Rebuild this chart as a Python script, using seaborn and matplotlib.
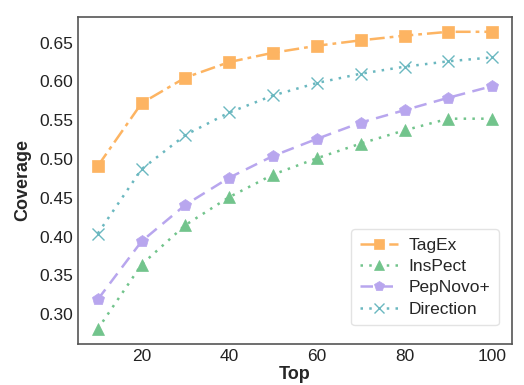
import matplotlib
matplotlib.use("Agg")
import matplotlib.pyplot as plt
import seaborn as sns
import pandas as pd

top = [10, 20, 30, 40, 50, 60, 70, 80, 90, 100]
tagex = [0.491, 0.572, 0.605, 0.625, 0.637, 0.646, 0.653, 0.659, 0.664, 0.664]
inspect = [0.281, 0.364, 0.415, 0.451, 0.480, 0.501, 0.520, 0.537, 0.552, 0.552]
pepnovo = [0.319, 0.394, 0.441, 0.476, 0.504, 0.526, 0.547, 0.563, 0.579, 0.594]
direction = [0.404, 0.487, 0.531, 0.560, 0.582, 0.598, 0.610, 0.619, 0.626, 0.631]

names = ["TagEx", "InsPect", "PepNovo+", "Direction"]
series = [tagex, inspect, pepnovo, direction]
colors = ["#FDB462", "#72C48C", "#B8A6EE", "#6BB8C0"]
styles = [(0, (6, 2, 1.5, 2)), (0, (1, 2.5)), (0, (5, 3)), (0, (1, 2.5))]
markers = ["s", "^", "p", "x"]

sns.set_style("white")
plt.rcParams["font.family"] = ["Liberation Sans", "DejaVu Sans"]

fig, ax = plt.subplots(figsize=(5.24, 3.85), dpi=100)
fig.subplots_adjust(left=0.149, right=0.977, top=0.956, bottom=0.107)

for name, vals, c, ls, m in zip(names, series, colors, styles, markers):
    df = pd.DataFrame({"Top": top, "Coverage": vals})
    sns.lineplot(data=df, x="Top", y="Coverage", ax=ax, color=c, linestyle=ls,
                 marker=m, markersize=9, markeredgecolor=c,
                 markeredgewidth=1.0 if m == "x" else 0.5,
                 linewidth=1.8, label=name)

ax.set_xticks([20, 40, 60, 80, 100])
ax.set_yticks([0.30, 0.35, 0.40, 0.45, 0.50, 0.55, 0.60, 0.65])
ax.set_yticklabels([f"{v:.2f}" for v in [0.30, 0.35, 0.40, 0.45, 0.50, 0.55, 0.60, 0.65]])
ax.tick_params(labelsize=12.5, colors="#222222", length=0)
ax.set_xlabel("Top", fontsize=13, fontweight="bold", labelpad=2)
ax.set_ylabel("Coverage", fontsize=13, fontweight="bold", labelpad=6)
for s in ax.spines.values():
    s.set_color("#555555")
    s.set_linewidth(1.2)

leg = ax.legend(loc="lower right", fontsize=12.5, frameon=True, handlelength=2.2,
                borderpad=0.5, labelspacing=0.35, handletextpad=0.6,
                markerscale=0.8, bbox_to_anchor=(0.99, 0.03))
leg.get_frame().set_edgecolor("#dddddd")

fig.savefig("out.png", dpi=100)
